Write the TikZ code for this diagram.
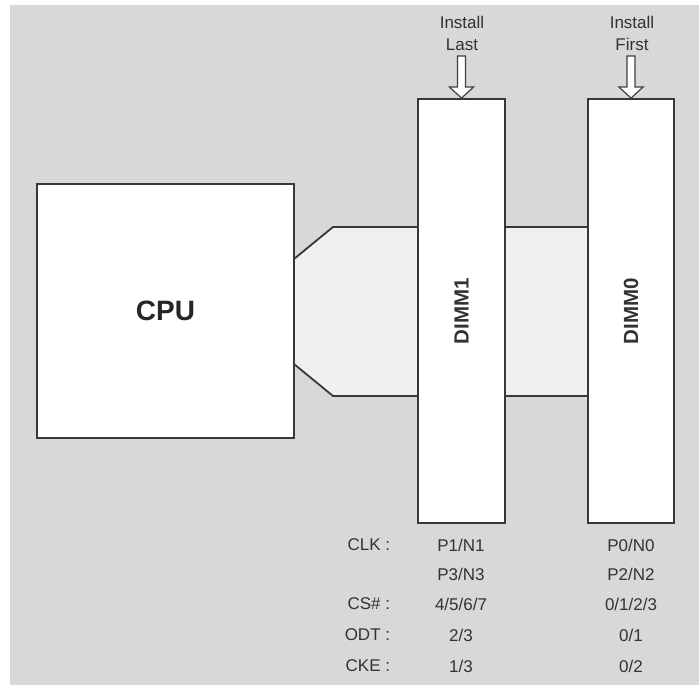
\documentclass[tikz,border=0pt]{standalone}
\usepackage{fontspec}
\setmainfont{Liberation Sans}
\usetikzlibrary{calc}
\begin{document}
\begin{tikzpicture}[x=1pt,y=-1pt,
  line width=1.8pt,
  edge/.style={draw=black!78},
  box/.style={edge, fill=white, inner sep=0pt},
  lbl/.style={font=\fontsize{17}{17}\selectfont, text=black!80, inner sep=0pt},
  inst/.style={font=\fontsize{17}{22}\selectfont, text=black!80, align=center, inner sep=0pt},
  dimmtxt/.style={rotate=90, font=\bfseries\fontsize{20.5}{20.5}\selectfont, text=black!80},
  harrow/.style={draw=black!75, line width=1.2pt, fill=white, line join=miter}]
\definecolor{bg}{HTML}{D9D7D9}
\definecolor{busfill}{HTML}{F1EFF2}
\useasboundingbox (0,0) rectangle (699,685);
\fill[white] (0,0) rectangle (699,685);
\fill[bg] (10,5) rectangle (699,685);
% bus
\fill[busfill] (294,259) -- (333,227) -- (588,227) -- (588,396) -- (333,396) -- (294,364) -- cycle;
\draw[edge] (294,259) -- (333,227) -- (588,227);
\draw[edge] (294,364) -- (333,396) -- (588,396);
% boxes
\node[box, minimum width=257pt, minimum height=254pt, font=\bfseries\fontsize{28}{28}\selectfont, text=black!85] (cpu) at (165.5,311) {CPU};
\node[box, minimum width=87pt, minimum height=424pt] (d1) at (461.5,311) {};
\node[box, minimum width=86pt, minimum height=424pt] (d0) at (631,311) {};
\node[dimmtxt] (d1t) at (d1.center) {DIMM1};
\node[dimmtxt] (d0t) at (d0.center) {DIMM0};
% install labels
\node[inst] (il) at (462,33) {Install\\Last};
\node[inst] (if) at (632,33) {Install\\First};
% hollow arrows
\coordinate (a1) at (d1.north);
\coordinate (a0) at (d0.north);
\draw[harrow] ($(a1)+(-4,-42)$) -- ($(a1)+(-4,-11)$) -- ($(a1)+(-12,-11)$) -- (a1) -- ($(a1)+(12,-11)$) -- ($(a1)+(4,-11)$) -- ($(a1)+(4,-42)$) -- cycle;
\draw[harrow] ($(a0)+(-4,-42)$) -- ($(a0)+(-4,-11)$) -- ($(a0)+(-12,-11)$) -- (a0) -- ($(a0)+(12,-11)$) -- ($(a0)+(4,-11)$) -- ($(a0)+(4,-42)$) -- cycle;
% table
\node[lbl, anchor=east] (r1) at (391,545) {CLK :};
\node[lbl, anchor=east] (r3) at (391,604) {CS\# :};
\node[lbl, anchor=east] (r4) at (391,635) {ODT :};
\node[lbl, anchor=east] (r5) at (391,666) {CKE :};
\node[lbl] (c11) at (461,545) {P1/N1};
\node[lbl] (c12) at (461,574) {P3/N3};
\node[lbl] (c13) at (461,604) {4/5/6/7};
\node[lbl] (c14) at (461,635) {2/3};
\node[lbl] (c15) at (461,666) {1/3};
\node[lbl] (c01) at (631,545) {P0/N0};
\node[lbl] (c02) at (631,574) {P2/N2};
\node[lbl] (c03) at (631,604) {0/1/2/3};
\node[lbl] (c04) at (631,635) {0/1};
\node[lbl] (c05) at (631,666) {0/2};
\end{tikzpicture}
\end{document}
